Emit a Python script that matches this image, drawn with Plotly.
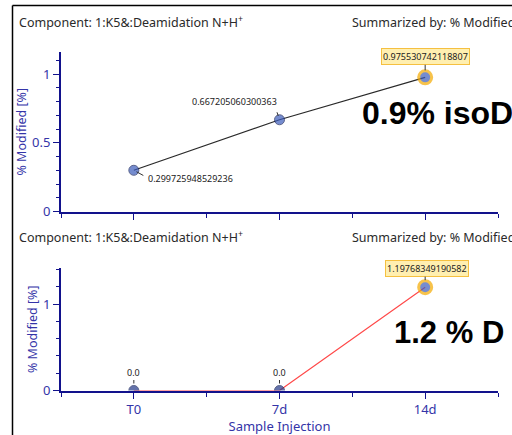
import plotly.graph_objects as go

categories = ["T0", "7d", "14d"]
iso_values = [0.299725948529236, 0.667205060300363, 0.975530742118807]
d_values = [0.0, 0.0, 1.19768349190582]
iso_labels = ["0.299725948529236", "0.667205060300363", "0.975530742118807"]
d_labels = ["0.0", "0.0", "1.19768349190582"]
header_left = "Component: 1:K5&:Deamidation N+H<sup>+</sup>"
header_right = "Summarized by: % Modified"
y_title = "% Modified [%]"
x_title = "Sample Injection"
big_top = "0.9% isoD"
big_bottom = "1.2 % D"

W, H = 512, 435
FONT = "Noto Sans"
AXC = "#12128c"
TXTC = "#3434a8"
xs = list(range(len(categories)))

def py(p):
    return 1 - p / H

def px(p):
    return p / W

fig = go.Figure()

mk_color = "#3c5cbc"
mk_line = ["#18245c", "#18245c", "#f5aa00"]
mk_size = [10, 10, 13]
mk_lw = [1, 1, 3]

fig.add_trace(go.Scatter(
    x=xs, y=iso_values, mode="lines+markers", xaxis="x", yaxis="y",
    line=dict(color="#2a2a2a", width=1.2),
    marker=dict(color=mk_color, size=mk_size, line=dict(color=mk_line, width=mk_lw)),
    showlegend=False, hoverinfo="skip", cliponaxis=True))

fig.add_trace(go.Scatter(
    x=xs, y=d_values, mode="lines+markers", xaxis="x2", yaxis="y2",
    line=dict(color="#ff4a4a", width=1.2),
    marker=dict(color=["#233888", "#233888", mk_color], size=mk_size,
                line=dict(color=["#18245c", "#18245c", "#f5aa00"], width=mk_lw)),
    showlegend=False, hoverinfo="skip", cliponaxis=True))

xdom = [px(61), px(498)]
common_x = dict(range=[-0.5, 2.5], showline=True, linecolor=AXC, linewidth=2,
                showgrid=False, zeroline=False, tickvals=xs, ticks="outside",
                ticklen=6, tickcolor=AXC, tickwidth=1, automargin=False,
                minor=dict(tickvals=[-0.5, 0.5, 1.5, 2.5], ticks="outside",
                           ticklen=4, tickcolor=AXC, tickwidth=1),
                domain=xdom)

ytick_font = dict(size=13, color=TXTC, family=FONT)
ytitle = dict(text=y_title, font=dict(size=12.5, color=TXTC, family=FONT), standoff=3)

fig.update_layout(
    width=W, height=H, margin=dict(l=0, r=0, t=0, b=0),
    paper_bgcolor="white", plot_bgcolor="white",
    font=dict(family=FONT, color="#222222"),
    xaxis=dict(**common_x, anchor="y", showticklabels=False),
    yaxis=dict(domain=[py(211.5), py(52)], range=[0, 1.16], anchor="x",
               showline=True, linecolor=AXC, linewidth=2, showgrid=False,
               zeroline=False, tickvals=[0, 0.5, 1], ticktext=["0", "0.5", "1"],
               ticks="outside", ticklen=6, tickcolor=AXC, automargin=False,
               tickfont=ytick_font,
               minor=dict(dtick=0.1, tick0=0, ticks="outside", ticklen=3, tickcolor=AXC),
               title=ytitle),
    xaxis2=dict(**common_x, anchor="y2", ticktext=categories,
                tickfont=dict(size=13, color=TXTC, family=FONT),
                title=dict(text=x_title, font=dict(size=13, color=TXTC, family=FONT),
                           standoff=7)),
    yaxis2=dict(domain=[py(390.5), py(268)], range=[0, 1.42], anchor="x2",
                showline=True, linecolor=AXC, linewidth=2, showgrid=False,
                zeroline=False, tickvals=[0, 1], ticktext=["0", "1"],
                ticks="outside", ticklen=6, tickcolor=AXC, automargin=False,
                tickfont=ytick_font,
                minor=dict(dtick=0.2, tick0=0, ticks="outside", ticklen=3, tickcolor=AXC),
                title=ytitle),
)

# frame lines
fig.add_shape(type="line", xref="paper", yref="paper", x0=px(12.5), x1=1,
              y0=py(5.5), y1=py(5.5), line=dict(color="black", width=1.5))
fig.add_shape(type="line", xref="paper", yref="paper", x0=px(12.5), x1=px(12.5),
              y0=py(5.5), y1=0, line=dict(color="black", width=1.5))

# headers
hfont = dict(size=12.5, color="#2a2a2a", family=FONT)
for ypix in (22, 237):
    fig.add_annotation(xref="paper", yref="paper", x=px(17), y=py(ypix),
                       text=header_left, showarrow=False, xanchor="left",
                       yanchor="middle", font=hfont)
    fig.add_annotation(xref="paper", yref="paper", x=px(350), y=py(ypix),
                       text=header_right, showarrow=False, xanchor="left",
                       yanchor="middle", font=hfont)

lab_font = dict(size=9, color="#222222", family=FONT)
box_kw = dict(bgcolor="#ffefb0", bordercolor="#f5c040", borderwidth=1, borderpad=1)

def lead(xr, yr, xv, yv, ax, ay, standoff):
    fig.add_annotation(xref=xr, yref=yr, x=xv, y=yv, text="", showarrow=True,
                       ax=ax, ay=ay, arrowhead=0, arrowwidth=1, arrowcolor="#333333",
                       standoff=standoff)

# top labels
fig.add_annotation(xref="x", yref="y", x=xs[0], y=iso_values[0], text=iso_labels[0],
                   showarrow=False, xanchor="left", xshift=12, yshift=-8, font=lab_font)
lead("x", "y", xs[0], iso_values[0], 11, 6, 3)
fig.add_annotation(xref="x", yref="y", x=xs[1], y=iso_values[1], text=iso_labels[1],
                   showarrow=False, xanchor="right", xshift=-1, yshift=18, font=lab_font)
lead("x", "y", xs[1], iso_values[1], -3, -9, 4)
fig.add_annotation(xref="x", yref="y", x=xs[2], y=iso_values[2], text=iso_labels[2],
                   showarrow=False, xshift=0, yshift=21, font=lab_font, **box_kw)
lead("x", "y", xs[2], iso_values[2], 0, -14, 7)

# bottom labels
for i in range(2):
    fig.add_annotation(xref="x2", yref="y2", x=xs[i], y=d_values[i], text=d_labels[i],
                       showarrow=False, yshift=18, font=lab_font)
    lead("x2", "y2", xs[i], d_values[i], 0, -12, 7)
fig.add_annotation(xref="x2", yref="y2", x=xs[2], y=d_values[2], text=d_labels[2],
                   showarrow=False, xshift=2, yshift=19, font=lab_font, **box_kw)
lead("x2", "y2", xs[2], d_values[2], 0, -12, 7)

# big texts
fig.add_annotation(xref="paper", yref="paper", x=px(360), y=py(113), text="<b>%s</b>" % big_top,
                   showarrow=False, xanchor="left", yanchor="middle",
                   font=dict(size=32, color="black", family="Liberation Sans"))
fig.add_annotation(xref="paper", yref="paper", x=px(392), y=py(332), text="<b>%s</b>" % big_bottom,
                   showarrow=False, xanchor="left", yanchor="middle",
                   font=dict(size=31, color="black", family="Liberation Sans"))

fig.write_html("out.html")
